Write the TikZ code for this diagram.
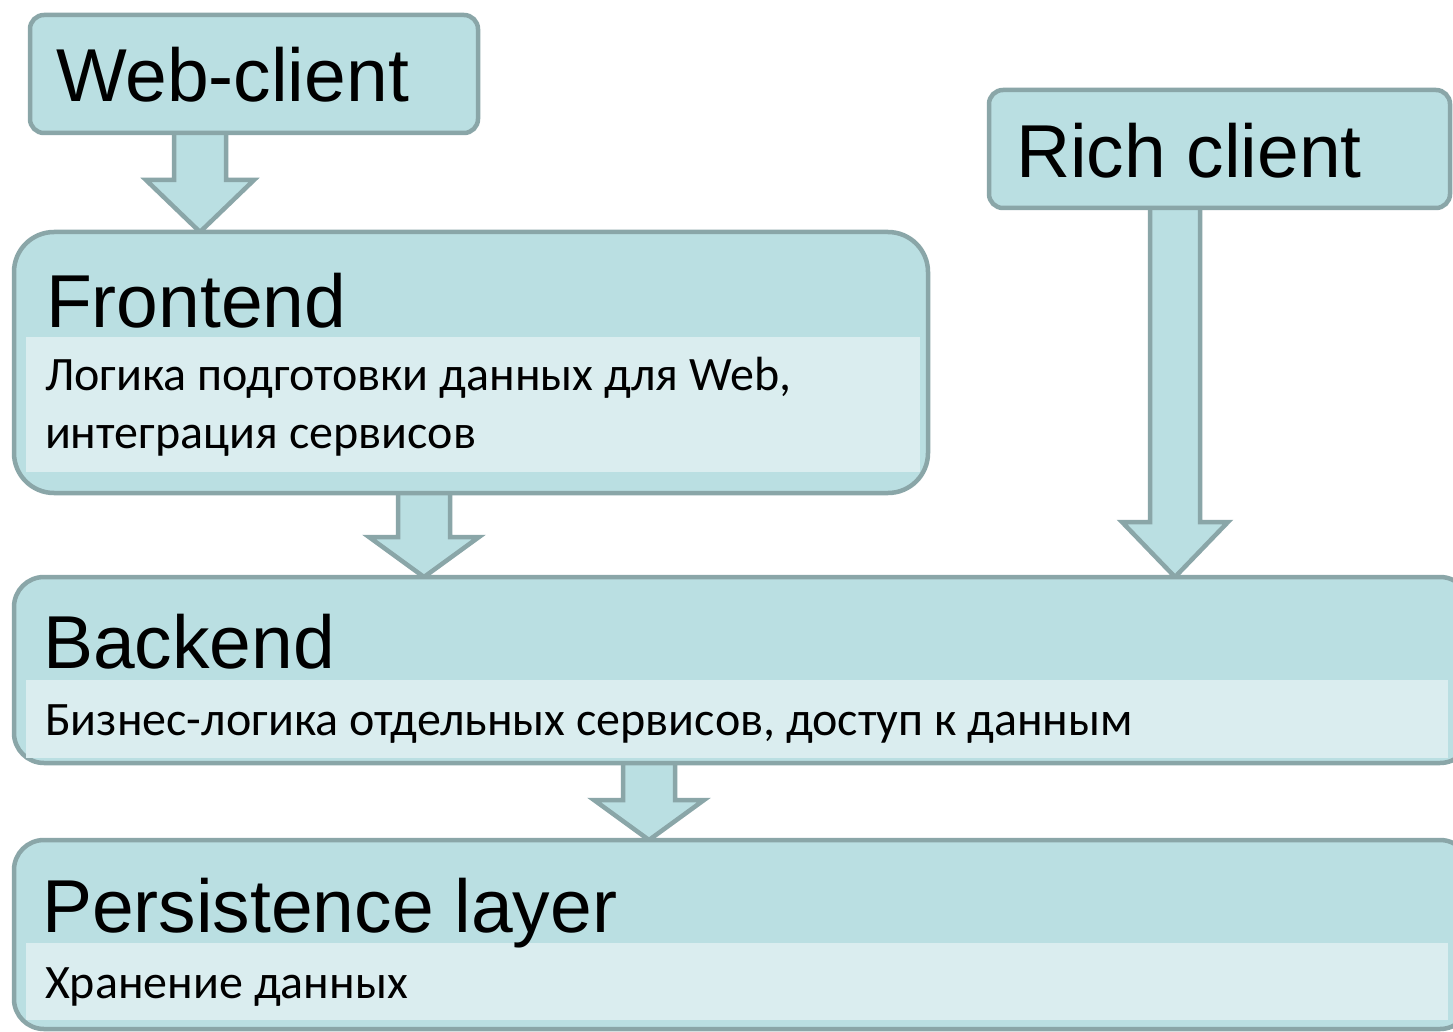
\documentclass[tikz,border=0pt]{standalone}
\usepackage{fontspec}
\setmainfont{Liberation Sans}
\newfontfamily\subfont{Carlito}
\usetikzlibrary{calc,backgrounds}
\definecolor{boxfill}{RGB}{186,223,226}
\definecolor{bandfill}{RGB}{218,237,239}
\definecolor{boxline}{RGB}{138,166,168}
\tikzset{
  box/.style={draw=boxline, fill=boxfill, line width=4.5pt, inner sep=0pt, outer sep=0pt, anchor=north west, rectangle},
  band/.style={fill=bandfill, draw=none, inner sep=0pt, outer sep=0pt, anchor=north west, rectangle},
  title/.style={inner sep=0pt, outer sep=0pt, anchor=base west, font=\fontsize{75}{80}\selectfont},
  subtext/.style={inner sep=0pt, outer sep=0pt, anchor=base west, font=\subfont\fontsize{48}{58}\selectfont},
  arrowstyle/.style={draw=boxline, fill=boxfill, line width=4.5pt, line join=miter}
}
% #1 from node, #2 to node, #3 centre x, #4 shaft half width, #5 head half width, #6 head length
\newcommand{\blockarrow}[6]{%
  \draw[arrowstyle]
    ($(#3-#4,0 |- #1.south)+(0,-10)$) --
    ($(#3-#4,0 |- #2.north)+(0,-#6)$) --
    ($(#3-#5,0 |- #2.north)+(0,-#6)$) --
    (#3,0 |- #2.north) --
    ($(#3+#5,0 |- #2.north)+(0,-#6)$) --
    ($(#3+#4,0 |- #2.north)+(0,-#6)$) --
    ($(#3+#4,0 |- #1.south)+(0,-10)$);
}
\begin{document}
\begin{tikzpicture}[x=1pt,y=-1pt]
\useasboundingbox (0,0) rectangle (1453,1032);
\clip (0,0) rectangle (1453,1032);

% boxes
\node[box, rounded corners=14pt, minimum width=448pt, minimum height=118pt] (web) at (30,15) {};
\node[box, rounded corners=14pt, minimum width=461pt, minimum height=118pt] (rich) at (989,90) {};
\node[box, rounded corners=40pt, minimum width=914pt, minimum height=261pt] (front) at (14,232) {};
\node[box, rounded corners=30pt, minimum width=1456pt, minimum height=186pt] (back) at (14,577) {};
\node[box, rounded corners=30pt, minimum width=1456pt, minimum height=189pt] (pers) at (14,840) {};

% light bands
\node[band, minimum width=894pt, minimum height=135pt] (fband) at (26,337) {};
\node[band, minimum width=1422pt, minimum height=78pt] (bband) at (26,680) {};
\node[band, minimum width=1422pt, minimum height=77pt] (pband) at (26,943) {};

% arrows (behind the boxes)
\begin{pgfonlayer}{background}
\fill[white] (0,0) rectangle (1453,1032);
\blockarrow{web}{front}{200}{26}{54}{52}
\blockarrow{rich}{back}{1175}{25}{53}{55}
\blockarrow{front}{back}{424}{26}{55}{40}
\blockarrow{back}{pers}{649}{26}{55}{40}
\end{pgfonlayer}

% titles
\node[title] (webt) at (56,102) {Web-client};
\node[title] (richt) at (1016,178) {Rich client};
\node[title] (frontt) at (46,327) {Frontend};
\node[title] (backt) at (43,668) {Backend};
\node[title] (perst) at (42,932) {Persistence layer};

% descriptions
\node[subtext] (fsub1) at (45,390) {Логика подготовки данных для Web,};
\node[subtext] (fsub2) at (45,448) {интеграция сервисов};
\node[subtext] (bsub) at (45,735) {Бизнес-логика отдельных сервисов, доступ к данным};
\node[subtext] (psub) at (45,998) {Хранение данных};
\end{tikzpicture}
\end{document}
